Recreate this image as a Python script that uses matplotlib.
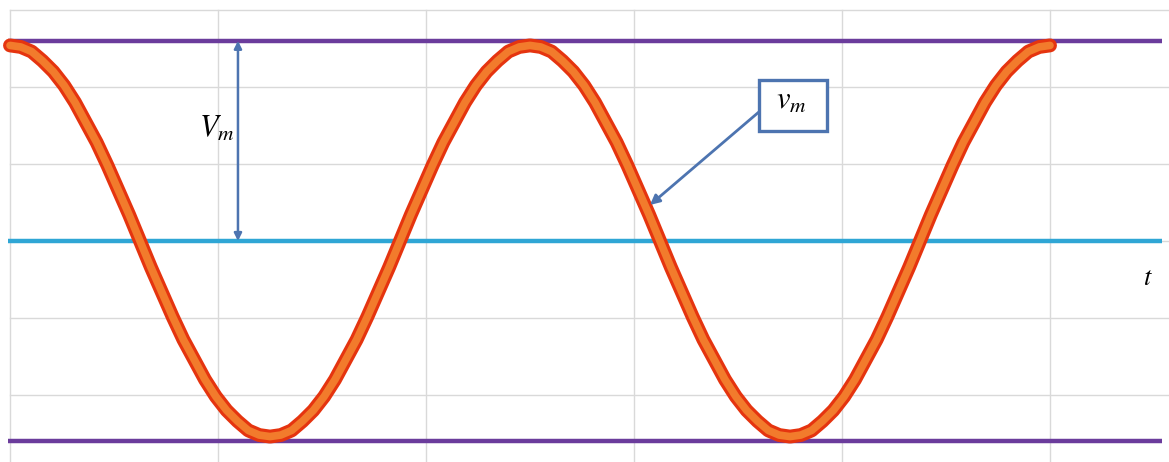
import numpy as np
import matplotlib
matplotlib.use("Agg")
import matplotlib.pyplot as plt
import matplotlib.patheffects as pe
from matplotlib.patches import Rectangle

plt.rcParams['mathtext.fontset'] = 'stix'

v_samples = [
    1.27, 1.26, 1.23, 1.17, 1.10, 1.01, 0.90, 0.77, 0.64, 0.49, 0.33, 0.17,
    0.00, -0.17, -0.33, -0.49, -0.64, -0.77, -0.90, -1.01, -1.10, -1.17, -1.23, -1.26,
    -1.27, -1.26, -1.23, -1.17, -1.10, -1.01, -0.90, -0.77, -0.64, -0.49, -0.33, -0.17,
    0.00, 0.17, 0.33, 0.49, 0.64, 0.77, 0.90, 1.01, 1.10, 1.17, 1.23, 1.26,
    1.27, 1.26, 1.23, 1.17, 1.10, 1.01, 0.90, 0.77, 0.64, 0.49, 0.33, 0.17,
    0.00, -0.17, -0.33, -0.49, -0.64, -0.77, -0.90, -1.01, -1.10, -1.17, -1.23, -1.26,
    -1.27, -1.26, -1.23, -1.17, -1.10, -1.01, -0.90, -0.77, -0.64, -0.49, -0.33, -0.17,
    0.00, 0.17, 0.33, 0.49, 0.64, 0.77, 0.90, 1.01, 1.10, 1.17, 1.23, 1.26,
    1.27,
]
t_start, t_end = 0.0, 5.0
t = np.linspace(t_start, t_end, len(v_samples))

Vm = 1.3
ref_levels = [Vm, 0.0, -Vm]
ref_colors = ['#6b3c9c', '#2fa6d5', '#6b3c9c']
ref_span = [-0.01, 5.54]

x_grid = [0, 1, 2, 3, 4, 5]
y_grid = [-1.0, -0.5, 0.0, 0.5, 1.0, 1.5]

W, H = 1169, 462
fig = plt.figure(figsize=(W / 100, H / 100), dpi=100)
ax = fig.add_axes([10 / W, 0, 1159 / W, 452 / H])
ax.set_xlim(0, 1159 / 208)
ax.set_ylim(-221 / 154, 1.5)
for s in ax.spines.values():
    s.set_visible(False)
ax.set_xticks(x_grid)
ax.set_yticks(y_grid)
ax.tick_params(length=0, labelleft=False, labelbottom=False)
ax.grid(True, color='#d9d9d9', lw=1)
for gl in ax.get_xgridlines() + ax.get_ygridlines():
    gl.set_clip_on(False)
ax.set_axisbelow(True)

# reference lines
for lev, col in zip(ref_levels, ref_colors):
    ax.plot(ref_span, [lev, lev], color=col, lw=3.2, solid_capstyle='butt',
            clip_on=False, zorder=2)

# waveform
ax.plot(t, v_samples, color='#f27b2c', lw=5.5, solid_capstyle='round',
        solid_joinstyle='round', clip_on=False, zorder=3,
        path_effects=[pe.Stroke(linewidth=10, foreground='#e5340f'), pe.Normal()])

arrow_col = '#4d74b0'

# V_m double arrow
ax.annotate('', xy=(1.096, Vm), xytext=(1.096, 0.0),
            arrowprops=dict(arrowstyle='<|-|>', color=arrow_col, lw=1.8,
                            mutation_scale=11, shrinkA=0, shrinkB=0), zorder=4)
ax.text(0.995, 0.73, r'$V_m$', fontsize=22, ha='center', va='center', zorder=5)

# v_m label box with pointer
box_cx, box_cy = 3.764, 0.88
box_w, box_h = 68 / 208, 51 / 154
ax.add_patch(Rectangle((box_cx - box_w / 2, box_cy - box_h / 2), box_w, box_h,
                       facecolor='white', edgecolor=arrow_col, lw=2.4, zorder=5))
ax.text(box_cx - 0.01, box_cy + 0.03, r'$v_m$', fontsize=22, ha='center', va='center', zorder=6)
ax.annotate('', xy=(3.077, 0.234), xytext=(box_cx - box_w / 2, 0.838),
            arrowprops=dict(arrowstyle='-|>', color=arrow_col, lw=2,
                            mutation_scale=14, shrinkA=0, shrinkB=0), zorder=4)

ax.text(5.471, -0.24, r'$t$', fontsize=19, ha='center', va='center')

fig.savefig('out.png', dpi=100, facecolor='white')
